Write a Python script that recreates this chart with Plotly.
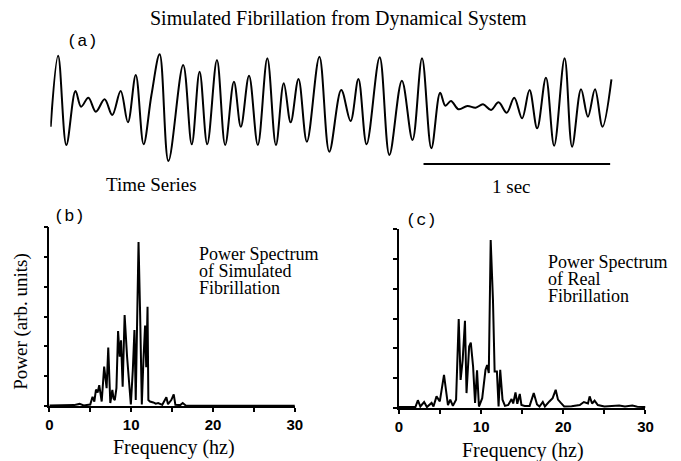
import plotly.graph_objects as go

# The page body keeps its default 8px margin, so the figure is drawn 8px
# smaller and every layout position below is measured in window pixels.
PAGE_W, PAGE_H, BODY = 681, 461, 8
W, H = PAGE_W - BODY, PAGE_H - BODY

# ---- (a) time series: extrema (time in s, amplitude arb.) ----
ts_time = [0.002, 0.042, 0.086, 0.135, 0.165, 0.204, 0.244, 0.291, 0.332, 0.377,
           0.416, 0.458, 0.500, 0.542, 0.586, 0.633, 0.712, 0.758, 0.800, 0.841,
           0.893, 0.937, 0.984, 1.021, 1.065, 1.112, 1.163, 1.209, 1.251, 1.288,
           1.330, 1.375, 1.442, 1.495, 1.559, 1.609, 1.651, 1.695, 1.765, 1.817,
           1.884, 1.941, 1.992, 2.042, 2.089, 2.117, 2.147, 2.188, 2.235, 2.279,
           2.319, 2.362, 2.402, 2.446, 2.486, 2.528, 2.568, 2.609, 2.656, 2.700,
           2.756, 2.796, 2.844, 2.881, 2.919, 2.959, 3.007]
ts_value = [-1.67, 5.43, -3.5, 1.9, 0.33, 1.23, -0.17, 1.07, -0.5, 1.9,
            -1.23, 3.5, -3.43, 1.5, 5.57, -5.1, 4.5, -3.43, 3.83, -3.43,
            5.0, -3.5, 2.83, -1.67, 3.43, -3.5, 5.17, -3.5, 2.67, -1.23,
            3.1, -3.17, 5.33, -4.17, 2.0, -1.1, 3.1, -3.43, 5.27, -4.5,
            2.93, -3.0, 5.17, -3.83, 1.73, 0.43, 0.9, 0.07, 0.4, 0.23,
            0.57, 0.0, 0.77, -0.27, 1.23, -0.83, 2.0, -1.83, 3.23, -3.57,
            5.17, -3.67, 2.07, -0.67, 2.07, -1.67, 3.07]
scale_bar_start = 2.0   # s
scale_bar_len = 1.0     # s

# ---- (b) power spectrum of simulated fibrillation ----
freq_b = [0, 3.0, 3.7, 4.2, 5.0, 5.28, 5.5, 5.7, 5.9, 6.1, 6.4, 6.7, 7.0, 7.2, 7.45,
          7.7, 7.85, 8.0, 8.2, 8.4, 8.6, 8.76, 8.96, 9.2, 9.5, 9.76, 9.96, 10.2,
          10.4, 10.56, 10.76, 10.9, 11.1, 11.3, 11.5, 11.7, 11.84, 12.0, 12.1,
          12.3, 12.7, 13.0, 13.3, 13.8, 14.3, 14.5, 14.9, 15.2, 15.4, 16.0, 16.3,
          16.7, 20, 25, 30]
power_b = [0.02, 0.03, 0.07, 0.02, 0.05, 0.31, 0.15, 0.55, 0.45, 0.7, 0.15, 1.32,
           0.6, 1.96, 0.1, 0.54, 0.25, 0.2, 0.6, 2.51, 1.65, 2.2, 0.65, 3.05, 1.65,
           0.65, 0.05, 1.2, 2.55, 0.2, 3.2, 5.5, 3.0, 0.05, 1.55, 2.7, 1.3, 3.33,
           0.2, 0.15, 0.12, 0.08, 0.1, 0.04, 0.29, 0.06, 0.2, 0.39, 0.04, 0.03,
           0.1, 0.01, 0.01, 0.01, 0.01]

# ---- (c) power spectrum of real fibrillation ----
freq_c = [0, 2.0, 2.3, 2.6, 3.06, 3.4, 3.97, 4.2, 4.57, 4.97, 5.48, 5.96, 6.24, 6.56,
          6.95, 7.27, 7.5, 7.75, 8.03, 8.22, 8.54, 8.74, 9.02, 9.26, 9.5, 9.73,
          10.13, 10.53, 10.73, 10.93, 11.16, 11.44, 11.64, 11.92, 12.12, 12.32,
          12.6, 12.9, 13.3, 13.7, 13.9, 14.18, 14.4, 14.7, 14.9, 15.3, 15.9, 16.4,
          16.8, 17.1, 17.5, 17.76, 18.3, 18.7, 19.07, 19.35, 19.7, 20.1, 21.0,
          22.0, 22.5, 23.0, 23.2, 23.5, 23.8, 24.2, 25.0, 26.0, 26.8, 27.5, 28.4,
          29.0, 30]
power_c = [0.03, 0.03, 0.26, 0.05, 0.2, 0.03, 0.17, 0.05, 0.39, 0.22, 1.11, 0.1,
           0.28, 0.07, 0.28, 2.98, 0.94, 1.6, 2.92, 0.5, 2.06, 2.19, 1.39, 0.17,
           1.26, 0.05, 0.33, 1.28, 1.44, 1.17, 5.63, 3.6, 1.22, 1.22, 0.05, 1.28,
           0.28, 0.07, 0.1, 0.3, 0.15, 0.52, 0.14, 0.47, 0.1, 0.07, 0.07, 0.5,
           0.12, 0.05, 0.2, 0.05, 0.22, 0.33, 0.61, 0.28, 0.17, 0.05, 0.06, 0.1,
           0.2, 0.15, 0.39, 0.15, 0.25, 0.1, 0.05, 0.06, 0.08, 0.05, 0.08, 0.04,
           0.03]

freq_tickvals = [0, 5, 10, 15, 20, 25, 30]
freq_ticktext = ["0", "", "10", "", "20", "", "30"]
power_tickvals = [0, 1, 2, 3, 4, 5, 6]

SERIF = "Liberation Serif"
MONO = "Liberation Mono"
SANS = "Liberation Sans"


def fx(p):
    return (p - BODY) / W


def fy(p):
    return 1 - (p - BODY) / H


fig = go.Figure()
fig.add_trace(go.Scatter(x=ts_time, y=ts_value, mode="lines",
                         line=dict(color="black", width=2, shape="spline", smoothing=1.0),
                         xaxis="x", yaxis="y", hoverinfo="skip"))
fig.add_trace(go.Scatter(x=freq_b, y=power_b, mode="lines",
                         line=dict(color="black", width=2),
                         xaxis="x2", yaxis="y2", hoverinfo="skip"))
fig.add_trace(go.Scatter(x=freq_c, y=power_c, mode="lines",
                         line=dict(color="black", width=2),
                         xaxis="x3", yaxis="y3", hoverinfo="skip"))

spec_x = dict(range=[0, 30], showline=True, linecolor="black", linewidth=1.5,
              ticks="outside", ticklen=4, tickwidth=1.5, tickcolor="black",
              tickvals=freq_tickvals, ticktext=freq_ticktext,
              tickfont=dict(family=SANS, size=15, color="black", weight="bold"),
              showgrid=False, zeroline=False, fixedrange=True)
spec_y = dict(range=[0, 6], showline=True, linecolor="black", linewidth=1.5,
              ticks="outside", ticklen=4, tickwidth=1.5, tickcolor="black",
              tickvals=power_tickvals, showticklabels=False,
              showgrid=False, zeroline=False, fixedrange=True)

fig.update_layout(
    width=W, height=H,
    margin=dict(l=0, r=0, t=0, b=0),
    paper_bgcolor="white", plot_bgcolor="white",
    showlegend=False,
    xaxis=dict(domain=[fx(47), fx(620)], range=[0, 573 / 190], visible=False),
    yaxis=dict(domain=[fy(168), fy(48)], range=[-5.8, 6.2], visible=False),
    xaxis2=dict(domain=[fx(46), fx(296)], anchor="y2", **spec_x),
    yaxis2=dict(domain=[fy(406), fy(227)], anchor="x2", **spec_y),
    xaxis3=dict(domain=[fx(402), fx(653)], anchor="y3", **spec_x),
    yaxis3=dict(domain=[fy(408), fy(229)], anchor="x3", **spec_y),
)

fig.add_shape(type="line", xref="x", yref="paper",
              x0=scale_bar_start, x1=scale_bar_start + scale_bar_len,
              y0=fy(164), y1=fy(164), line=dict(color="black", width=2))


def note(text, x, y, size, family=SERIF, xanchor="center", angle=0):
    fig.add_annotation(text=text, x=fx(x), y=fy(y), xref="paper", yref="paper",
                       showarrow=False, xanchor=xanchor, yanchor="middle",
                       textangle=angle, borderpad=0,
                       font=dict(family=family, size=size, color="black"))


note("Simulated Fibrillation from Dynamical System", 340, 18, 20)
note("(a)", 80, 42, 17, family=MONO)
note("Time Series", 150, 184, 19)
note("1 sec", 517, 186, 19)
note("(b)", 67, 216, 17, family=MONO)
note("(c)", 425, 221, 17, family=MONO)
for i, line in enumerate(["Power Spectrum", "of Simulated", "Fibrillation"]):
    note(line, 197, 254 + 17 * i, 18, xanchor="left")
for i, line in enumerate(["Power Spectrum", "of Real", "Fibrillation"]):
    note(line, 553, 262 + 17 * i, 18, xanchor="left")
note("Frequency (hz)", 173, 447, 20)
note("Frequency (hz)", 528, 450, 20)
note("Power (arb. units)", 17, 321, 19, angle=-90)

fig.write_html("out.html")
